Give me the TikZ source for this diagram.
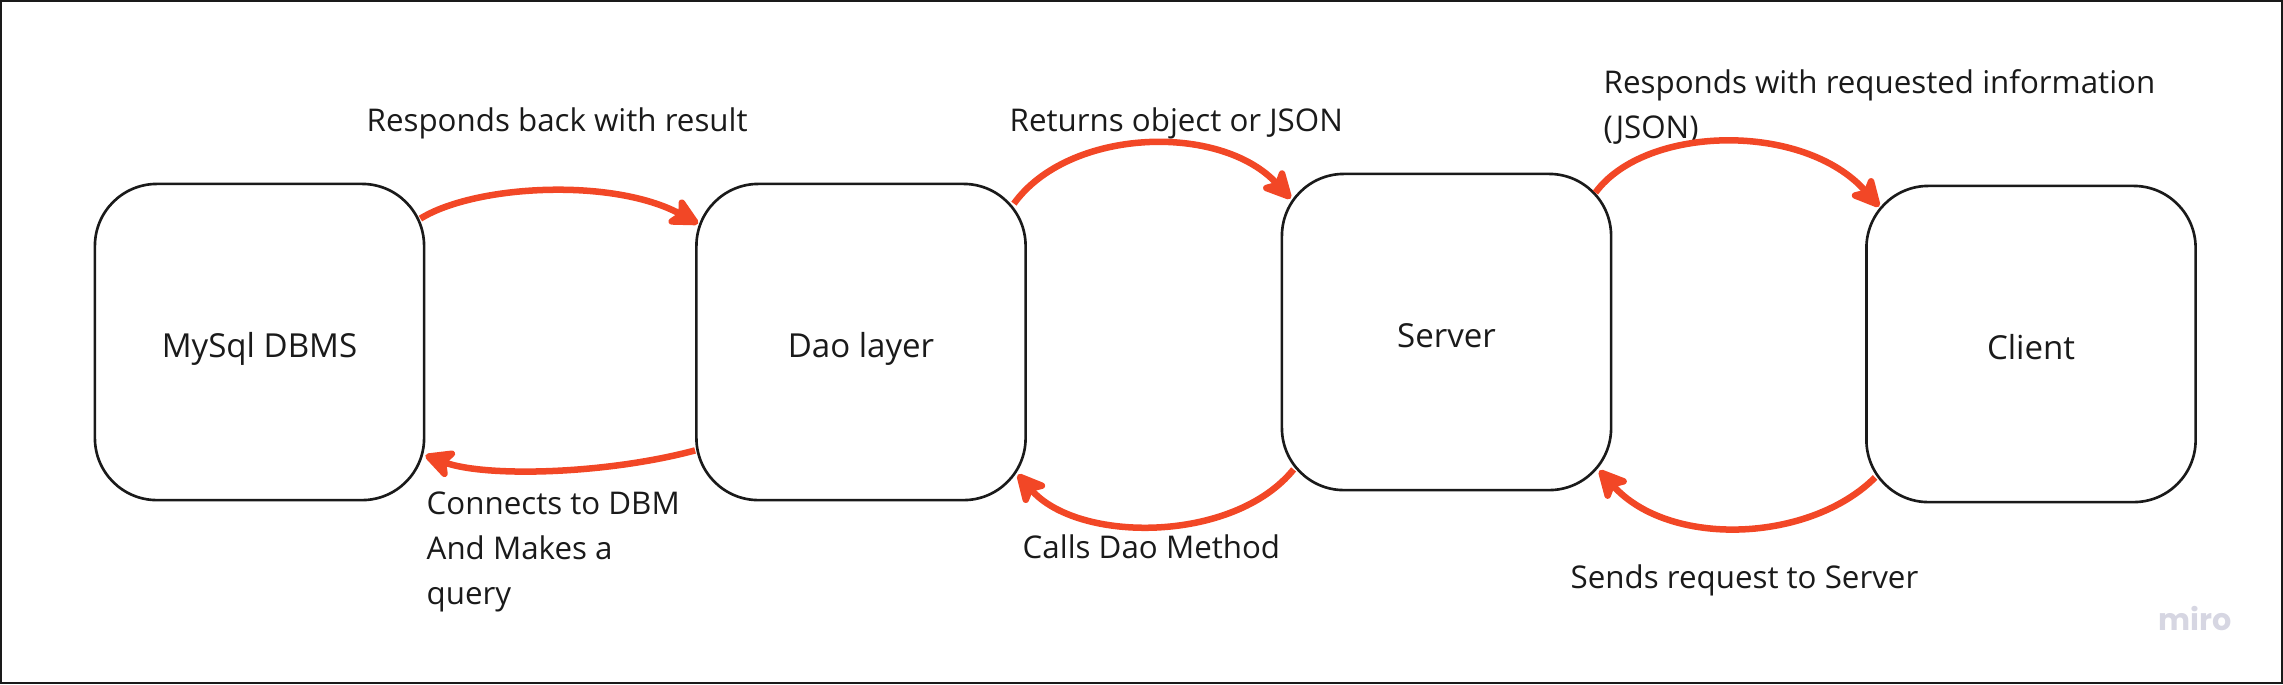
\documentclass[tikz,border=0pt]{standalone}
\usepackage{fontspec}
\setmainfont{Open Sans}
\newfontfamily\mirofont{Poppins}
\usetikzlibrary{arrows.meta}
\definecolor{flowred}{HTML}{F24726}
\definecolor{inkdark}{HTML}{1A1A1A}
\definecolor{mirogray}{HTML}{D6D6E2}
\tikzset{
  layerbox/.style={draw=inkdark, line width=.75pt, rounded corners=.62cm, minimum width=3.29cm, minimum height=3.16cm, text depth=0pt, text height=8.6pt, text=inkdark, font=\fontsize{9.4}{12}\selectfont},
  flow/.style={draw=flowred, line width=1.85pt, -{Stealth[length=10pt, width=10pt, inset=2.5pt, round]}},
  caption/.style={anchor=base west, inner sep=0pt, text=inkdark, font=\fontsize{8.9}{12.8}\selectfont, align=left}
}
\begin{document}
\begin{tikzpicture}[x=.01cm, y=-.01cm]
      \useasboundingbox (0,0) rectangle (2283,684);
      \draw[inkdark, line width=.8pt] (1,1) rectangle (2282,683);

      % Camadas
      \foreach \name/\x/\y/\txt in {mysql/259.5/342/MySql DBMS, dao/861/342/Dao layer, server/1446.5/332/Server, client/2031/344/Client} {
        \node[layerbox] (\name) at (\x,\y) {\txt};
      }

      % Textos das setas
      \node[caption] (backlbl) at (366,131) {Responds back with result};
      \node[caption] (returnlbl) at (1009,131) {Returns object or JSON};
      \node[caption] (infolbl) at (1603,93) {Responds with requested information};
      \node[caption] (jsonlbl) at (1603,138) {(JSON)};
      \node[caption] (connlbl) at (426,514) {Connects to DBM};
      \node[caption] (makeslbl) at (426,559) {And Makes a};
      \node[caption] (querylbl) at (426,604) {query};
      \node[caption] (callslbl) at (1022,558) {Calls Dao Method};
      \node[caption] (sendslbl) at (1570,588) {Sends request to Server};
      \node[anchor=base west, inner sep=0pt, text=mirogray, font=\mirofont\bfseries\fontsize{8.6}{10}\selectfont] (mirolbl) at (2158,630) {miro};

      % Setas de resposta
      \draw[flow] ([shift={(-5,36)}]mysql.north east) .. controls +(55,-34) and +(-85,-46) .. ([shift={(3,41)}]dao.north west);
      \draw[flow] ([shift={(-13,21)}]dao.north east) .. controls +(55,-76) and +(-70,-76) .. ([shift={(10,26)}]server.north west);
      \draw[flow] ([shift={(-17,20)}]server.north east) .. controls +(50,-68) and +(-75,-85) .. ([shift={(14,22)}]client.north west);

      % Setas de chamada
      \draw[flow] ([shift={(0,-51)}]dao.south west) .. controls +(-90,24) and +(60,22) .. ([shift={(0,-46)}]mysql.south east);
      \draw[flow] ([shift={(13,-22)}]server.south west) .. controls +(-60,74) and +(60,69) .. ([shift={(-9,-27)}]dao.south east);
      \draw[flow] ([shift={(10,-26)}]client.south west) .. controls +(-65,65) and +(70,78) .. ([shift={(-13,-21)}]server.south east);
    \end{tikzpicture}
\end{document}
